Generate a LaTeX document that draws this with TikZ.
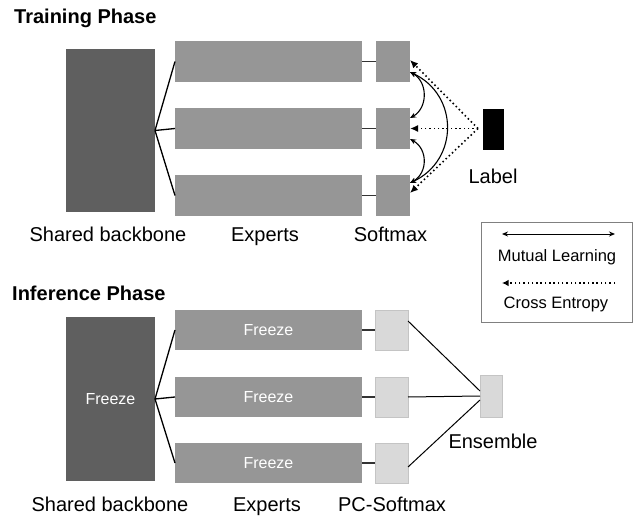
\documentclass[tikz,border=0pt]{standalone}
\usepackage{fontspec}
\setmainfont{Liberation Sans}
\usetikzlibrary{arrows.meta}
\definecolor{bbgray}{HTML}{5F5F5F}
\definecolor{exgray}{HTML}{969696}
\definecolor{ltgray}{HTML}{D9D9D9}
\definecolor{ltedge}{HTML}{C4C4C4}
\definecolor{shortln}{HTML}{333333}
\tikzset{
  box/.style={rectangle, inner sep=0pt, outer sep=0pt},
  backbone/.style={box, fill=bbgray, minimum width=89pt, minimum height=163pt},
  expert/.style={box, fill=exgray, minimum width=187pt, minimum height=41pt},
  softbox/.style={box, fill=exgray, minimum width=34pt, minimum height=41pt},
  pcbox/.style={box, fill=ltgray, draw=ltedge, line width=0.6pt, minimum width=33pt, minimum height=40pt},
  lbl/.style={anchor=base, font=\fontsize{20}{24}\selectfont, inner sep=0pt},
  title/.style={anchor=base west, font=\fontsize{20}{24}\selectfont\bfseries, inner sep=0pt},
  legtext/.style={anchor=base, font=\fontsize{16.5}{20}\selectfont, inner sep=0pt},
  whitetext/.style={text=white, font=\fontsize{16}{19}\selectfont},
  conn/.style={line width=1.3pt, black},
  shortc/.style={line width=1.3pt, shortln},
  ce/.style={line width=1.6pt, dash pattern=on 1.5pt off 2.8pt, -{Latex[length=8pt,width=7pt]}},
  ml/.style={line width=1.1pt, {Stealth[length=6pt,width=5pt]}-{Stealth[length=6pt,width=5pt]}},
}
\begin{document}
\begin{tikzpicture}[x=1pt, y=-1pt]
\useasboundingbox (0,0) rectangle (633,519);

% ---------- Training phase ----------
\node[title] (ttitle) at (14,24) {Training Phase};
\node[backbone] (bb1) at (110.5,130.5) {};
\node[expert] (e1) at (268.5,61.5) {};
\node[expert] (e2) at (268.5,128.5) {};
\node[expert] (e3) at (268.5,195.5) {};
\node[softbox] (s1) at (393,61.5) {};
\node[softbox] (s2) at (393,128.5) {};
\node[softbox] (s3) at (393,195.5) {};
\node[box, fill=black, minimum width=21pt, minimum height=41pt] (lab) at (493.5,129.5) {};
\coordinate (lp) at (478,128.5);

\draw[conn] (bb1.east) -- (e1.west);
\draw[conn] (bb1.east) -- (e2.west);
\draw[conn] (bb1.east) -- (e3.west);
\draw[shortc] (e1.east) -- (s1.west);
\draw[shortc] (e2.east) -- (s2.west);
\draw[shortc] (e3.east) -- (s3.west);

\draw[ce] (lp) -- ([yshift=1.5pt]s1.east);
\draw[ce] (lp) -- (s2.east);
\draw[ce] (lp) -- ([yshift=2.5pt]s3.east);

\draw[ml] ([yshift=-10.5pt]s1.east) .. controls +(18,10) and +(18,-10) .. ([yshift=10.5pt]s2.east);
\draw[ml] ([yshift=-10.5pt]s2.east) .. controls +(18,10) and +(18,-10) .. ([yshift=12.5pt]s3.east);
\draw[ml] ([yshift=-10.5pt]s1.east) .. controls +(49,23) and +(49,-23) .. ([yshift=12.5pt]s3.east);

\node[lbl] (l1) at (108,241.5) {Shared backbone};
\node[lbl] (l2) at (265,241.5) {Experts};
\node[lbl] (l3) at (390.5,241.5) {Softmax};
\node[lbl] (l4) at (493,183) {Label};

% ---------- Legend ----------
\node[box, draw=gray, line width=0.8pt, minimum width=151pt, minimum height=100pt] (leg) at (556.5,272) {};
\coordinate (m1) at (502,234);
\coordinate (m2) at (615,234);
\draw[ml, line width=1pt] (m1) -- (m2);
\node[legtext] (lt1) at (557,261) {Mutual Learning};
\coordinate (c1) at (615,283);
\coordinate (c2) at (502,283);
\draw[ce, line width=1.3pt, -{Latex[length=6.5pt,width=6.5pt]}] (c1) -- (c2);
\node[legtext] (lt2) at (556,308) {Cross Entropy};

% ---------- Inference phase ----------
\node[title] (ititle) at (12,300.5) {Inference Phase};
\node[backbone, minimum height=164pt, whitetext] (bb2) at (110.5,399) {Freeze};
\node[expert, minimum height=40pt, whitetext] (f1) at (268.5,330) {Freeze};
\node[expert, minimum height=40pt, whitetext] (f2) at (268.5,397) {Freeze};
\node[expert, minimum height=40pt, whitetext] (f3) at (268.5,463) {Freeze};
\node[pcbox] (p1) at (391.5,330) {};
\node[pcbox] (p2) at (391.5,397) {};
\node[pcbox] (p3) at (391.5,463) {};
\node[pcbox, minimum width=22pt, minimum height=42pt] (ens) at (491,396) {};

\draw[conn] (bb2.east) -- (f1.west);
\draw[conn] (bb2.east) -- (f2.west);
\draw[conn] (bb2.east) -- (f3.west);
\draw[shortc] (f1.east) -- (p1.west);
\draw[shortc] (f2.east) -- (p2.west);
\draw[shortc] (f3.east) -- (p3.west);

\draw[line width=1pt] ([yshift=9pt]p1.east) -- ([yshift=5pt]ens.west);
\draw[line width=1pt] (p2.east) -- (ens.west);
\draw[line width=1pt] ([yshift=-4pt]p3.east) -- ([yshift=-4pt]ens.west);

\node[lbl] (l5) at (110,511.5) {Shared backbone};
\node[lbl] (l6) at (267,511.5) {Experts};
\node[lbl] (l7) at (392,511.5) {PC-Softmax};
\node[lbl] (l8) at (493,448) {Ensemble};
\end{tikzpicture}
\end{document}
